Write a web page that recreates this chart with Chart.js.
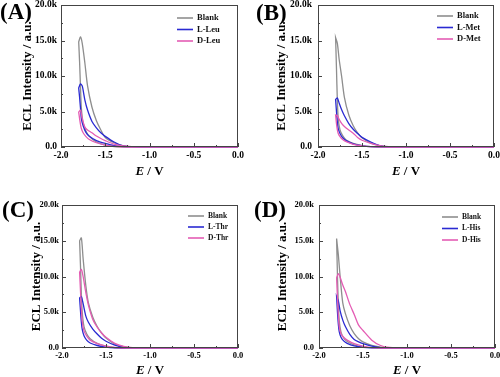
<!DOCTYPE html>
<html>
<head>
<meta charset="utf-8">
<script src="https://cdn.jsdelivr.net/npm/chart.js@4.4.1/dist/chart.umd.min.js"></script>
<style>
  body { margin: 0; background: #fff; }
  #wrap { position: relative; width: 500px; height: 377px; overflow: hidden; }
  canvas { position: absolute; }
  .tag { position: absolute; font-family: "Liberation Serif", serif; font-weight: bold; font-size: 23px; line-height: 23px; color: #000; }
</style>
</head>
<body>
<div id="wrap"></div>
<script>
// potential grid (V): forward sweep 0 -> -1.8, then back
const potentialOut = [0, -1.0, -1.2, -1.3, -1.4, -1.5, -1.55, -1.6, -1.65, -1.7, -1.73, -1.76, -1.78, -1.8];
const potentialBack = [-1.8, -1.79, -1.78, -1.77, -1.75, -1.72, -1.68, -1.6, -1.5, -1.4, -1.2, 0];

const xTickValues = [-2, -1.5, -1, -0.5, 0];
const yTickValues = [0, 5000, 10000, 15000, 20000];

const panelTags = ['(A)', '(B)', '(C)', '(D)'];
const seriesNames = [
    ['Blank', 'L-Leu', 'D-Leu'],
    ['Blank', 'L-Met', 'D-Met'],
    ['Blank', 'L-Thr', 'D-Thr'],
    ['Blank', 'L-His', 'D-His']
];

// ECL intensity (a.u.) along potentialOut / potentialBack, order: Blank, L-, D-
const outA = [
    [0, 0, 20, 180, 600, 1350, 2400, 3700, 5600, 8600, 11800, 14600, 15500, 14800],
    [0, 0, 30, 150, 700, 1500, 2000, 2700, 3600, 5200, 6600, 8600, 8900, 8300],
    [0, 0, 60, 150, 400, 900, 1200, 1550, 2000, 2400, 2800, 4000, 5200, 4900]
];
const backA = [
    [14800, 12000, 8500, 5500, 3400, 2300, 1500, 700, 250, 60, 0, 0],
    [8300, 7000, 5500, 4000, 3000, 2100, 1500, 900, 500, 200, 10, 0],
    [4900, 4000, 3200, 2600, 2000, 1500, 1050, 600, 280, 80, 0, 0]
];
const outB = [
    [0, 0, 50, 200, 550, 1300, 2000, 3000, 4500, 7000, 9800, 12400, 14600, 15400],
    [0, 0, 20, 200, 700, 1350, 1900, 2500, 3300, 4400, 5200, 6200, 6900, 6700],
    [0, 0, 40, 200, 500, 950, 1350, 1950, 2400, 2900, 3300, 3900, 4400, 4500]
];
const backB = [
    [15400, 11000, 6500, 4000, 2400, 1600, 1000, 500, 200, 50, 0, 0],
    [6700, 5000, 3500, 2600, 1900, 1300, 900, 450, 180, 40, 0, 0],
    [4500, 3300, 2400, 1900, 1450, 1050, 750, 380, 150, 40, 0, 0]
];
const outC = [
    [0, 0, 30, 200, 550, 1400, 2100, 3000, 4300, 6300, 8800, 12500, 15400, 15000],
    [0, 0, 10, 100, 400, 950, 1350, 1950, 2650, 3600, 4500, 6200, 7200, 7000],
    [0, 0, 40, 220, 650, 1500, 2100, 2900, 4000, 6000, 7800, 10000, 11000, 10600]
];
const backC = [
    [15000, 11500, 7500, 5000, 3000, 2000, 1300, 650, 250, 60, 0, 0],
    [7000, 5200, 3600, 2600, 1700, 1100, 700, 350, 120, 30, 0, 0],
    [10600, 8000, 5500, 3700, 2400, 1700, 1100, 600, 250, 70, 0, 0]
];
const outD = [
    [0, 0, 30, 120, 350, 850, 1300, 2000, 3100, 4800, 6300, 10000, 13000, 15300],
    [0, 0, 10, 60, 250, 600, 850, 1200, 1900, 3000, 3900, 5200, 6600, 7200],
    [0, 0, 80, 350, 1100, 2450, 3200, 4700, 6100, 7900, 8800, 9900, 10400, 9800]
];
const backD = [
    [15300, 10000, 6000, 3800, 2200, 1400, 900, 450, 150, 40, 0, 0],
    [7200, 5000, 3300, 2300, 1500, 1000, 650, 300, 100, 20, 0, 0],
    [9800, 7000, 4500, 3000, 2000, 1500, 1100, 600, 250, 60, 0, 0]
];

const outs = [outA, outB, outC, outD];
const backs = [backA, backB, backC, backD];
const lineColors = ['#8e8e8e', '#2a2ad2', '#e45cb4'];

// panel placement / sizing
const panels = [
    { left: 0, top: 0, h: 188, yW: 61, padTop: 5, padRight: 12, xH: 41, yTitlePad: 20, yTickPad: 4, tickSize: 9.5,
      leg: { dx: 61, dy: 13, gap: 11.5, size: 8.5 }, titleGap: 25, tag: [0, 0] },
    { left: 250, top: 0, h: 188, yW: 68, padTop: 5, padRight: 6, xH: 41, yTitlePad: 24, yTickPad: 6, tickSize: 9.5,
      leg: { dx: 57, dy: 11, gap: 11.5, size: 8.5 }, titleGap: 25, tag: [256, 1] },
    { left: 0, top: 188, h: 189, yW: 62, padTop: 17, padRight: 12, xH: 29, yTitlePad: 29, yTickPad: 3, tickSize: 8.5,
      leg: { dx: 50, dy: 11, gap: 11, size: 7.5 }, titleGap: 23, tag: [2, 198] },
    { left: 250, top: 188, h: 189, yW: 69, padTop: 17, padRight: 5, xH: 29, yTitlePad: 25, yTickPad: 5, tickSize: 8.5,
      leg: { dx: 53, dy: 12, gap: 11.5, size: 7.5 }, titleGap: 23, tag: [254, 198] }
];

const FONT = '"Liberation Serif", "Times New Roman", serif';

const framePlugin = {
    id: 'frame',
    afterDraw(chart, args, opts) {
        const { ctx, chartArea: a, scales: { x, y } } = chart;
        ctx.save();
        ctx.strokeStyle = '#444';
        ctx.lineWidth = 1;
        ctx.strokeRect(a.left + 0.5, a.top + 0.5, a.right - a.left - 1, a.bottom - a.top - 1);
        // inward tick marks
        ctx.beginPath();
        for (let v = 0; v <= 20000; v += 2500) {
            const py = Math.round(y.getPixelForValue(v)) + 0.5;
            const len = v % 5000 ? 2 : 4;
            ctx.moveTo(a.left, py); ctx.lineTo(a.left + len, py);
        }
        for (let k = 0; k <= 8; k++) {
            const px = Math.round(x.getPixelForValue(-2 + k * 0.25)) + 0.5;
            const len = k % 2 ? 2 : 4;
            ctx.moveTo(px, a.bottom); ctx.lineTo(px, a.bottom - len);
        }
        ctx.stroke();

        // x title: italic E / V
        ctx.fillStyle = '#000';
        ctx.textBaseline = 'middle';
        const cy = a.bottom + opts.titleGap;
        ctx.font = 'italic bold 13px ' + FONT;
        const wE = ctx.measureText('E').width;
        ctx.font = 'bold 13px ' + FONT;
        const wR = ctx.measureText(' / V').width;
        let sx = (a.left + a.right) / 2 - (wE + wR) / 2;
        ctx.font = 'italic bold 13px ' + FONT;
        ctx.fillText('E', sx, cy);
        ctx.font = 'bold 13px ' + FONT;
        ctx.fillText(' / V', sx + wE, cy);

        // legend
        const lg = opts.leg;
        ctx.font = 'bold ' + lg.size + 'px ' + FONT;
        chart.data.datasets.forEach((ds, i) => {
            const ly = a.top + lg.dy + i * lg.gap;
            const lx = a.right - lg.dx;
            ctx.strokeStyle = ds.borderColor;
            ctx.lineWidth = 1.6;
            ctx.beginPath();
            ctx.moveTo(lx, ly); ctx.lineTo(lx + 16, ly);
            ctx.stroke();
            ctx.fillStyle = '#111';
            ctx.fillText(ds.label, lx + 20, ly);
        });
        ctx.restore();
    }
};

const wrap = document.getElementById('wrap');

panels.forEach((p, n) => {
    const canvas = document.createElement('canvas');
    canvas.width = 250;
    canvas.height = p.h;
    canvas.style.left = p.left + 'px';
    canvas.style.top = p.top + 'px';
    wrap.appendChild(canvas);

    const tag = document.createElement('div');
    tag.className = 'tag';
    tag.textContent = panelTags[n];
    tag.style.left = p.tag[0] + 'px';
    tag.style.top = p.tag[1] + 'px';
    wrap.appendChild(tag);

    const datasets = seriesNames[n].map((name, i) => {
        const pts = [];
        potentialOut.forEach((e, k) => pts.push({ x: e, y: outs[n][i][k] }));
        potentialBack.forEach((e, k) => pts.push({ x: e, y: backs[n][i][k] }));
        return {
            label: name,
            data: pts,
            borderColor: lineColors[i],
            borderWidth: 1.3,
            showLine: true,
            pointRadius: 0,
            tension: 0.25,
            fill: false,
            clip: 3,
            order: 2 - i   // D- curve drawn on top
        };
    });

    new Chart(canvas, {
        type: 'scatter',
        data: { datasets: datasets },
        options: {
            responsive: false,
            animation: false,
            layout: { padding: { top: p.padTop, right: p.padRight, left: 0, bottom: 0 } },
            plugins: {
                legend: { display: false },
                tooltip: { enabled: false },
                frame: { leg: p.leg, titleGap: p.titleGap }
            },
            scales: {
                x: {
                    type: 'linear',
                    min: -2,
                    max: 0,
                    afterBuildTicks: s => { s.ticks = xTickValues.map(v => ({ value: v })); },
                    afterFit: s => { s.height = p.xH; s.paddingLeft = 0; s.paddingRight = 0; },
                    grid: { display: false, drawTicks: false },
                    border: { display: false },
                    ticks: {
                        color: '#000',
                        padding: 3,
                        maxRotation: 0,
                        autoSkip: false,
                        font: { family: FONT, weight: 'bold', size: p.tickSize },
                        callback: v => Number(v).toFixed(1)
                    }
                },
                y: {
                    min: 0,
                    max: 20000,
                    afterBuildTicks: s => { s.ticks = yTickValues.map(v => ({ value: v })); },
                    afterFit: s => { s.width = p.yW; s.paddingTop = 0; s.paddingBottom = 0; },
                    grid: { display: false, drawTicks: false },
                    border: { display: false },
                    ticks: {
                        color: '#000',
                        padding: p.yTickPad,
                        autoSkip: false,
                        font: { family: FONT, weight: 'bold', size: p.tickSize },
                        callback: v => (v / 1000).toFixed(1) + (v === 0 ? '' : 'k')
                    },
                    title: {
                        display: true,
                        text: 'ECL Intensity / a.u.',
                        color: '#000',
                        padding: { top: p.yTitlePad, bottom: 0 },
                        font: { family: FONT, weight: 'bold', size: 13 }
                    }
                }
            }
        },
        plugins: [framePlugin]
    });
});
</script>
</body>
</html>
